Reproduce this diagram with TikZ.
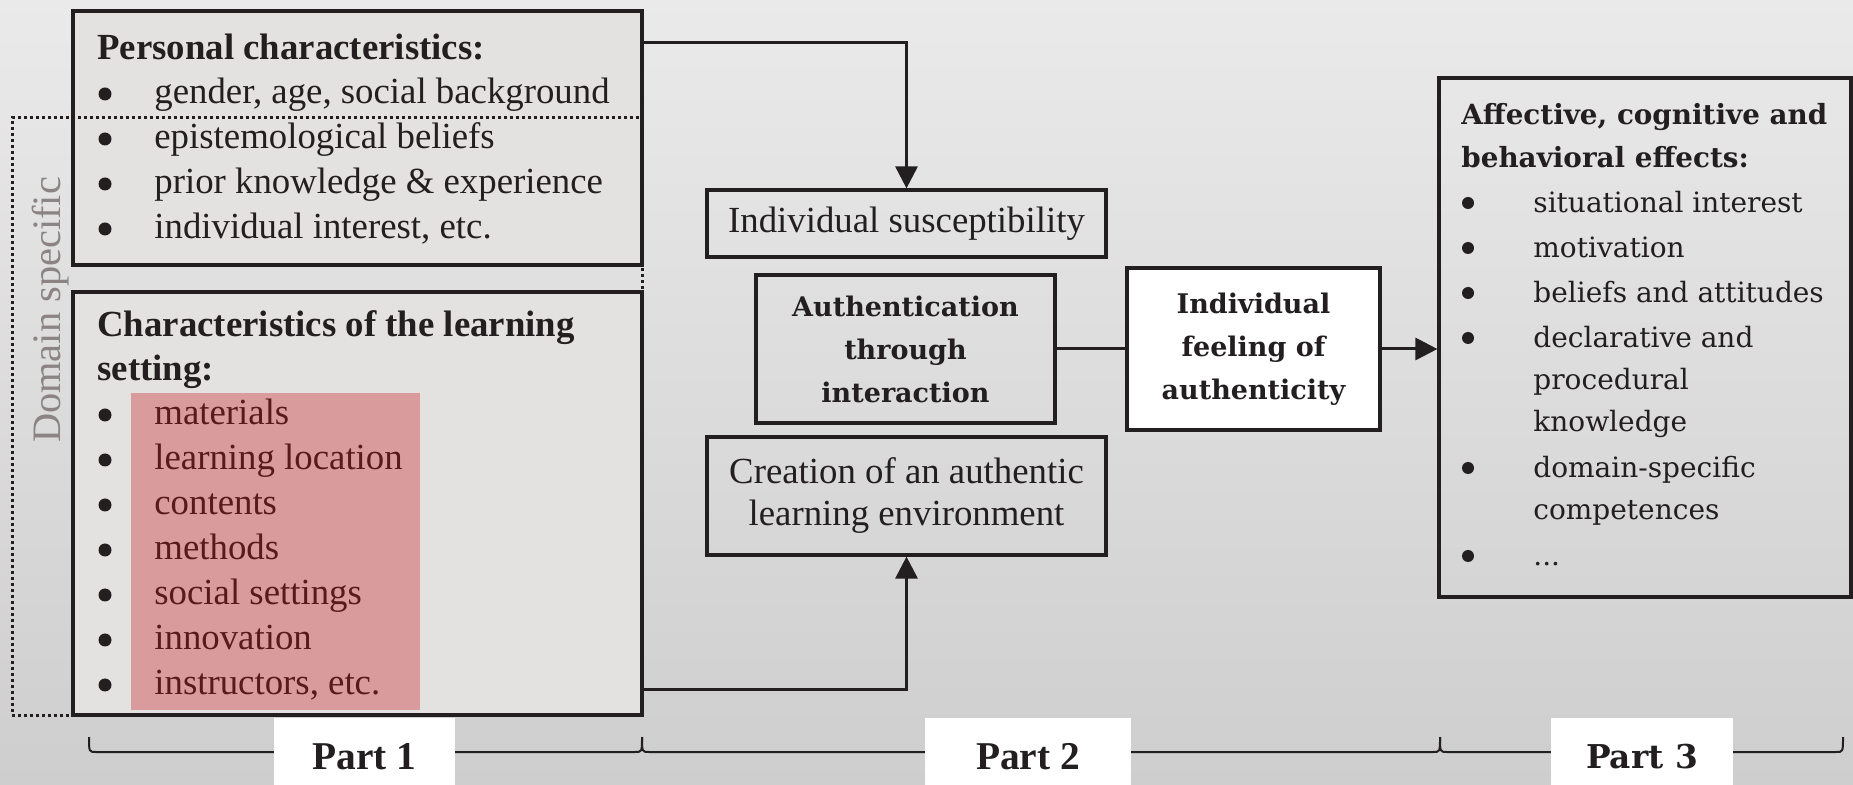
\documentclass[tikz,border=0pt]{standalone}
\usepackage{fontspec}
\setmainfont{Liberation Serif}
\newfontfamily\centfont{DejaVu Serif}
\usetikzlibrary{arrows.meta,fit,positioning}

\definecolor{bgtop}{RGB}{234,234,234}
\definecolor{bgbot}{RGB}{206,206,206}
\definecolor{boxfill}{RGB}{227,226,224}
\definecolor{pinkfill}{RGB}{217,155,155}
\definecolor{pinktext}{RGB}{88,26,28}
\definecolor{ink}{RGB}{35,31,32}
\definecolor{domaingray}{RGB}{140,132,132}

\newcommand\effdots{.{}.{}.}

\tikzset{
  frame/.style={draw=ink, line width=1.6pt, inner sep=0pt},
  dotbox/.style={draw=ink, line width=1.5pt, dash pattern=on 1.5pt off 1.5pt, inner sep=0pt},
  arr/.style={draw=ink, line width=1.5pt, -{Triangle[length=11pt,width=11pt]}},
  conn/.style={draw=ink, line width=1.5pt},
  partline/.style={draw=ink, line width=1pt},
  item/.style={anchor=mid west, inner sep=0pt, yshift=-3.5pt, text=ink, font=\fontsize{18.4}{22.5}\selectfont},
  head/.style={item, font=\bfseries\fontsize{18.4}{22.5}\selectfont},
  bul/.style={circle, fill=ink, inner sep=0pt, minimum size=6.5pt, yshift=-1pt},
  effbul/.style={bul, minimum size=6pt},
  effitem/.style={item, font=\centfont\fontsize{14}{22.5}\selectfont},
  effhead/.style={item, font=\centfont\bfseries\fontsize{13.9}{22.5}\selectfont},
  midbox/.style={frame, align=center, text=ink, font=\fontsize{18.4}{21}\selectfont},
  boldbox/.style={frame, align=center, text=ink, font=\centfont\bfseries\fontsize{13.5}{21.5}\selectfont},
  partlabel/.style={fill=white, inner sep=0pt, minimum height=39pt, text=ink},
}

\begin{document}
\begin{tikzpicture}[x=0.5pt, y=-0.5pt]
  \useasboundingbox (0,0) rectangle (1853,785);
  \clip (0,0) rectangle (1853,785);
  \shade[top color=bgtop, bottom color=bgbot] (0,0) rectangle (1853,785);

  % part 1
  \node[frame, fill=boxfill, fit={(73,11) (642,265)}] (pers) {};
  \node[frame, fill=boxfill, fit={(73,292) (642,715)}] (learn) {};
  \node[fill=pinkfill, inner sep=0pt, fit={(131,393) (420,710)}] (pink) {};

  \node[head] (perstitle) at (97,48) {Personal characteristics:};
  \foreach \y/\txt [count=\i] in {92/{gender, age, social background}, 137/{epistemological beliefs},
      182/{prior knowledge \& experience}, 227/{individual interest, etc.}} {
    \node[bul] (pb\i) at (105,\y) {};
    \node[item] (pi\i) at (154,\y) {\txt};
  }

  \node[head] (learntitle) at (97,325) {Characteristics of the learning};
  \node[head] (learntitlex) at (97,369) {setting:};
  \foreach \y/\txt [count=\i] in {413/materials, 458/{learning location}, 503/contents, 548/methods,
      593/{social settings}, 638/innovation, 683/{instructors, etc.}} {
    \node[bul] (lb\i) at (105,\y) {};
    \node[item, text=pinktext] (li\i) at (154,\y) {\txt};
  }

  \node[dotbox, fit={(12,118) (642,715)}] (dom) {};
  \node[rotate=90, text=domaingray, font=\fontsize{20.2}{24}\selectfont] (domlabel) at (51,310) {Domain specific};

  % part 2
  \node[midbox, minimum width=199.5pt, minimum height=33.5pt] (susc) at (906.5,223.5) {Individual susceptibility};
  \node[boldbox, minimum width=149.5pt, minimum height=74pt] (auth) at (905.5,349) {Authentication\\through\\interaction};
  \node[midbox, minimum width=199.5pt, minimum height=59pt] (create) at (906.5,496) {Creation of an authentic\\learning environment};
  \node[boldbox, fill=white, minimum width=126.5pt, minimum height=81pt] (feel) at (1253.5,349) {Individual\\feeling of\\authenticity};

  \coordinate (persout) at (642,43);
  \coordinate (learnout) at (642,690);
  \draw[arr] (persout) -| (susc.north);
  \draw[arr] (learnout) -| (create.south);
  \draw[conn] (auth.east) -- (feel.west);

  % part 3
  \node[frame, fit={(1439,78) (1851,597)}] (effects) {};
  \draw[arr] (feel.east) -- (feel.east -| effects.west);

  \node[effhead] (efftitle) at (1461,113) {Affective, cognitive and};
  \node[effhead] (efftitlex) at (1461,156) {behavioral effects:};
  \foreach \y/\txt/\b [count=\i] in {201/{situational interest}/1, 246/motivation/1, 291/{beliefs and attitudes}/1,
      336/{declarative and}/1, 378/procedural/0, 420/knowledge/0, 466/domain-specific/1,
      508/competences/0, 554/\effdots/1} {
    \ifnum\b=1 \node[effbul] (eb\i) at (1468,\y) {}; \fi
    \node[effitem] (ei\i) at (1533,\y) {\txt};
  }

  % parts
  \foreach \a/\b in {89/642, 642/1440, 1440/1843}
    \draw[partline] (\a,737) .. controls (\a,752) .. (\a+7,752) -- (\b-7,752) .. controls (\b,752) .. (\b,737);
  \node[partlabel, minimum width=90.5pt, font=\bfseries\fontsize{19.7}{24}\selectfont] (part1) at (364.5,757) {Part 1};
  \node[partlabel, minimum width=103pt, font=\bfseries\fontsize{19.7}{24}\selectfont] (part2) at (1028,757) {Part 2};
  \node[partlabel, minimum width=91pt, font=\centfont\bfseries\fontsize{16.4}{20}\selectfont] (part3) at (1642,757) {Part 3};
\end{tikzpicture}
\end{document}
